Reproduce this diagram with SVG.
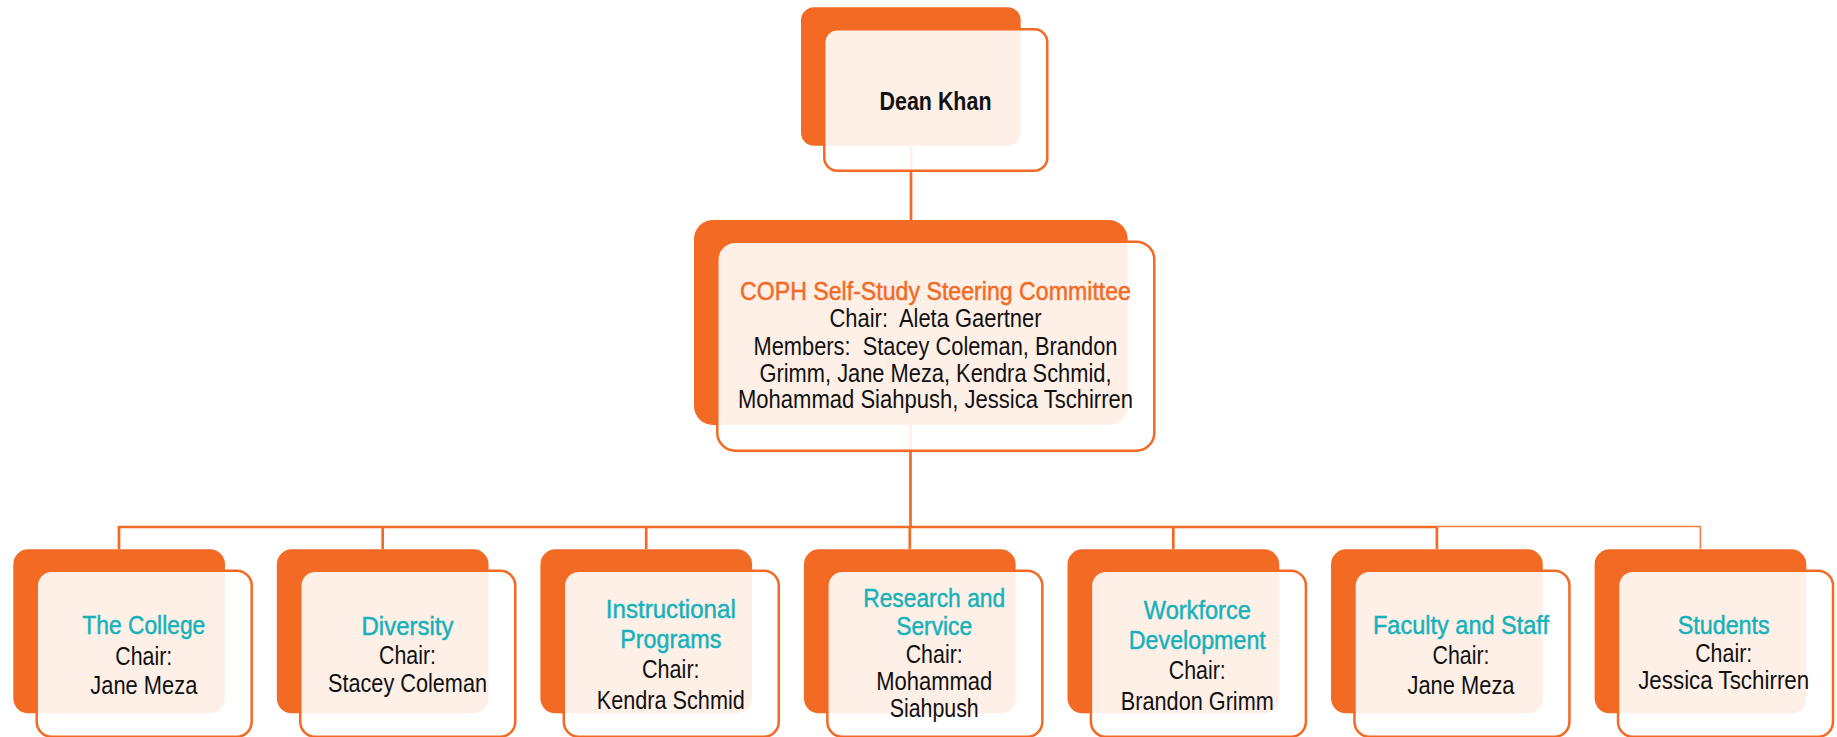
<svg xmlns="http://www.w3.org/2000/svg" width="1837" height="737" viewBox="0 0 1837 737">
<style>
.back{fill:#F26A24;}
.front{fill:#FFFFFF;fill-opacity:0.89;stroke:#F26A24;stroke-width:2.5;}
.ln{stroke:#F26A24;stroke-width:2.7;fill:none;}
.lnt{stroke:#F37E45;stroke-width:1.6;fill:none;}
text{font-family:"Liberation Sans",Arial,sans-serif;font-size:25px;text-anchor:middle;}
.t{fill:#15B2BB;stroke:#15B2BB;stroke-width:0.45;}
.o{fill:#F26A24;stroke:#F26A24;stroke-width:0.45;}
.k{fill:#111111;}
.d{fill:#111111;font-weight:bold;}
</style>
<rect width="1837" height="737" fill="#FFFFFF"/>
<g id="connectors">
<line class="ln" x1="911" y1="146" x2="911" y2="221"/>
<line class="ln" x1="910.5" y1="425" x2="910.5" y2="527"/>
<polyline class="ln" points="119,549 119,527 1437,527"/>
<line class="ln" x1="382.7" y1="527" x2="382.7" y2="549"/>
<line class="ln" x1="646.2" y1="527" x2="646.2" y2="549"/>
<line class="ln" x1="909.8" y1="527" x2="909.8" y2="549"/>
<line class="ln" x1="1173.3" y1="527" x2="1173.3" y2="549"/>
<line class="ln" x1="1436.9" y1="527" x2="1436.9" y2="549"/>
<polyline class="lnt" points="1436.9,526.5 1700.4,526.5 1700.4,549"/>
</g>
<g id="dean">
<rect class="back" x="801" y="7.3" width="219.7" height="138.4" rx="13"/>
<rect class="front" x="824.3" y="29.3" width="223" height="141.4" rx="13"/>
<text class="d" x="935.5" y="110" textLength="112" lengthAdjust="spacingAndGlyphs">Dean Khan</text>
</g>
<g id="committee">
<rect class="back" x="694" y="220" width="433.7" height="205" rx="19"/>
<rect class="front" x="717.3" y="241.7" width="437" height="209" rx="18"/>
<text class="o" x="935.5" y="300" textLength="391" lengthAdjust="spacingAndGlyphs">COPH Self-Study Steering Committee</text>
<text class="k" x="935.5" y="326.7" textLength="212" lengthAdjust="spacingAndGlyphs">Chair:&#160; Aleta Gaertner</text>
<text class="k" x="935.5" y="355" textLength="364" lengthAdjust="spacingAndGlyphs">Members:&#160; Stacey Coleman, Brandon</text>
<text class="k" x="935.5" y="381.7" textLength="352" lengthAdjust="spacingAndGlyphs">Grimm, Jane Meza, Kendra Schmid,</text>
<text class="k" x="935.5" y="408.3" textLength="395" lengthAdjust="spacingAndGlyphs">Mohammad Siahpush, Jessica Tschirren</text>
</g>
<g id="college">
<rect class="back" x="13.3" y="549.3" width="211.7" height="164" rx="15"/>
<rect class="front" x="36.7" y="570.7" width="215" height="166" rx="15"/>
<text class="t" x="143.8" y="634" textLength="123" lengthAdjust="spacingAndGlyphs">The College</text>
<text class="k" x="143.8" y="665" textLength="57" lengthAdjust="spacingAndGlyphs">Chair:</text>
<text class="k" x="143.8" y="694.3" textLength="107" lengthAdjust="spacingAndGlyphs">Jane Meza</text>
</g>
<g id="diversity">
<rect class="back" x="276.85" y="549.3" width="211.7" height="164" rx="15"/>
<rect class="front" x="300.25" y="570.7" width="215" height="166" rx="15"/>
<text class="t" x="407.5" y="635" textLength="92" lengthAdjust="spacingAndGlyphs">Diversity</text>
<text class="k" x="407.5" y="664" textLength="57" lengthAdjust="spacingAndGlyphs">Chair:</text>
<text class="k" x="407.5" y="691.7" textLength="159" lengthAdjust="spacingAndGlyphs">Stacey Coleman</text>
</g>
<g id="instructional">
<rect class="back" x="540.4" y="549.3" width="211.7" height="164" rx="15"/>
<rect class="front" x="563.8" y="570.7" width="215" height="166" rx="15"/>
<text class="t" x="670.8" y="618.3" textLength="130" lengthAdjust="spacingAndGlyphs">Instructional</text>
<text class="t" x="670.8" y="648.3" textLength="101" lengthAdjust="spacingAndGlyphs">Programs</text>
<text class="k" x="670.8" y="678.3" textLength="57.5" lengthAdjust="spacingAndGlyphs">Chair:</text>
<text class="k" x="670.8" y="709" textLength="148" lengthAdjust="spacingAndGlyphs">Kendra Schmid</text>
</g>
<g id="research">
<rect class="back" x="803.95" y="549.3" width="211.7" height="164" rx="15"/>
<rect class="front" x="827.35" y="570.7" width="215" height="166" rx="15"/>
<text class="t" x="934.2" y="606.7" textLength="142" lengthAdjust="spacingAndGlyphs">Research and</text>
<text class="t" x="934.2" y="635" textLength="76" lengthAdjust="spacingAndGlyphs">Service</text>
<text class="k" x="934.2" y="662.7" textLength="57" lengthAdjust="spacingAndGlyphs">Chair:</text>
<text class="k" x="934.2" y="690" textLength="116" lengthAdjust="spacingAndGlyphs">Mohammad</text>
<text class="k" x="934.2" y="716.7" textLength="89" lengthAdjust="spacingAndGlyphs">Siahpush</text>
</g>
<g id="workforce">
<rect class="back" x="1067.5" y="549.3" width="211.7" height="164" rx="15"/>
<rect class="front" x="1090.9" y="570.7" width="215" height="166" rx="15"/>
<text class="t" x="1197.3" y="619" textLength="107" lengthAdjust="spacingAndGlyphs">Workforce</text>
<text class="t" x="1197.3" y="649.3" textLength="137" lengthAdjust="spacingAndGlyphs">Development</text>
<text class="k" x="1197.3" y="679.3" textLength="57" lengthAdjust="spacingAndGlyphs">Chair:</text>
<text class="k" x="1197.3" y="710" textLength="153" lengthAdjust="spacingAndGlyphs">Brandon Grimm</text>
</g>
<g id="faculty">
<rect class="back" x="1331.05" y="549.3" width="211.7" height="164" rx="15"/>
<rect class="front" x="1354.45" y="570.7" width="215" height="166" rx="15"/>
<text class="t" x="1461" y="634" textLength="176" lengthAdjust="spacingAndGlyphs">Faculty and Staff</text>
<text class="k" x="1461" y="664.3" textLength="57" lengthAdjust="spacingAndGlyphs">Chair:</text>
<text class="k" x="1461" y="694.3" textLength="107" lengthAdjust="spacingAndGlyphs">Jane Meza</text>
</g>
<g id="students">
<rect class="back" x="1594.6" y="549.3" width="211.7" height="164" rx="15"/>
<rect class="front" x="1618" y="570.7" width="215" height="166" rx="15"/>
<text class="t" x="1723.7" y="634.3" textLength="92" lengthAdjust="spacingAndGlyphs">Students</text>
<text class="k" x="1723.7" y="661.7" textLength="57" lengthAdjust="spacingAndGlyphs">Chair:</text>
<text class="k" x="1723.7" y="689.3" textLength="171" lengthAdjust="spacingAndGlyphs">Jessica Tschirren</text>
</g>
</svg>
